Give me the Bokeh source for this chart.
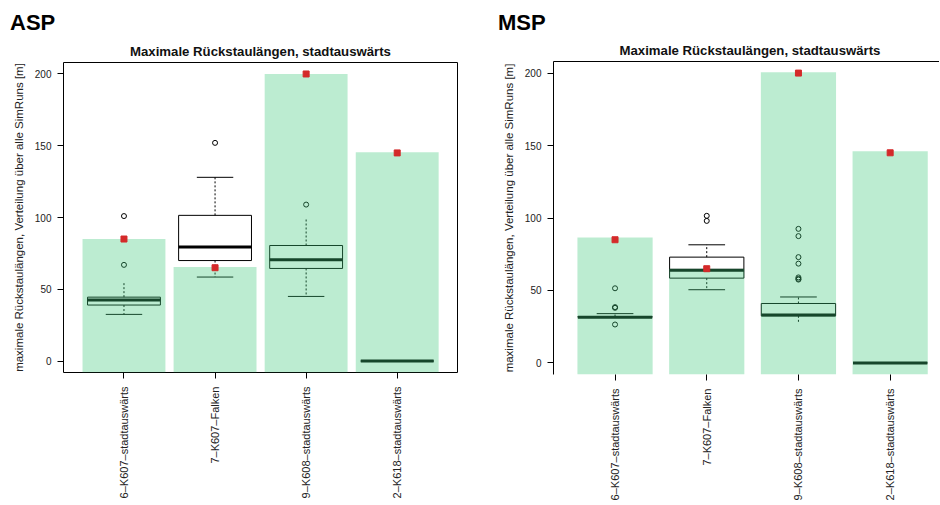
import math
from bokeh.plotting import figure
from bokeh.models import ColumnDataSource, Range1d, FixedTicker, LinearAxis, Div
from bokeh.transform import dodge
from bokeh.layouts import row, column
from bokeh.embed import file_html
from bokeh.resources import INLINE

NaN = float("nan")

# ---------------- data ----------------
title_text = "Maximale Rückstaulängen, stadtauswärts"
y_label = "maximale Rückstaulängen, Verteilung über alle SimRuns [m]"
y_ticks = [0, 50, 100, 150, 200]

asp_cats = ["6–K607–stadtauswärts", "7–K607–Falken", "9–K608–stadtauswärts", "2–K618–stadtauswärts"]
asp_bar = [85, 65.5, 200, 145.5]
asp_red = [85, 65, 200, 145]
asp_q1 = [39, 70, 64.5, 0]
asp_med = [42.5, 79.5, 70.5, 0]
asp_q3 = [44.5, 101.5, 80.5, 0]
asp_lo = [32.5, 58.5, 45, 0]
asp_hi = [54.5, 128, 100, 0]
asp_lo_cap = [32.5, 58.5, 45, NaN]
asp_hi_cap = [NaN, 128, NaN, NaN]
asp_out_cat = ["6–K607–stadtauswärts", "6–K607–stadtauswärts", "7–K607–Falken", "9–K608–stadtauswärts"]
asp_out_val = [101, 67, 152, 109]

msp_cats = ["6–K607–stadtauswärts", "7–K607–Falken", "9–K608–stadtauswärts", "2–K618–stadtauswärts"]
msp_bar = [86.5, 65, 200.5, 146]
msp_red = [85, 65, 200, 145]
msp_q1 = [31.5, 58.5, 32.5, 0]
msp_med = [31.5, 64, 33, 0]
msp_q3 = [32, 73, 41, 0]
msp_lo = [31.5, 50.5, 27, 0]
msp_hi = [34, 81.5, 45.5, 0]
msp_lo_cap = [NaN, 50.5, NaN, NaN]
msp_hi_cap = [34, 81.5, 45.5, NaN]
msp_out_cat = ["6–K607–stadtauswärts"] * 4 + ["7–K607–Falken"] * 2 + ["9–K608–stadtauswärts"] * 7
msp_out_val = [51.5, 38.5, 38, 26.5, 101.5, 98, 92.5, 87.5, 73, 68.5, 59, 57.5, 58]

FONT = "Liberation Sans"
Y0, Y1 = -8, 208


def make_panel(cats, bar, red, q1, med, q3, lo, hi, lo_cap, hi_cap, out_cat, out_val,
               frame_w, frame_h, mb_left, mb_right, mb_top, x_lo, x_hi, bar_w, box_w, cap_w,
               boxed, title_align, title_offset):
    p = figure(frame_width=frame_w, frame_height=frame_h,
               min_border_left=mb_left, min_border_right=mb_right,
               min_border_top=mb_top, min_border_bottom=133,
               x_range=Range1d(x_lo, x_hi), y_range=Range1d(Y0, Y1),
               output_backend="svg", toolbar_location=None)
    p.grid.visible = False
    p.background_fill_color = "white"
    p.border_fill_color = "white"

    p.title.text = title_text
    p.title.text_font = FONT
    p.title.text_font_size = "13.2px"
    p.title.text_font_style = "bold"
    p.title.text_color = "#111111"
    p.title.align = title_align
    p.title.offset = title_offset
    p.title.standoff = 8

    idx = {c: i + 1 for i, c in enumerate(cats)}
    xs = [idx[c] for c in cats]
    src = ColumnDataSource(dict(x=xs, bar=bar, red=red, q1=q1, med=med, q3=q3,
                                lo=lo, hi=hi, locap=lo_cap, hicap=hi_cap))

    # boxplot (drawn first, the bars overlay it translucently)
    p.vbar(x="x", bottom="q1", top="q3", width=box_w, fill_color="white",
           line_color="black", line_width=1, source=src)
    p.segment(x0="x", y0="q3", x1="x", y1="hi", line_color="black", line_width=1,
              line_dash="2 2", source=src)
    p.segment(x0="x", y0="q1", x1="x", y1="lo", line_color="black", line_width=1,
              line_dash="2 2", source=src)
    p.segment(x0=dodge("x", -cap_w / 2), y0="hicap", x1=dodge("x", cap_w / 2), y1="hicap",
              line_color="black", line_width=1, source=src)
    p.segment(x0=dodge("x", -cap_w / 2), y0="locap", x1=dodge("x", cap_w / 2), y1="locap",
              line_color="black", line_width=1, source=src)
    p.segment(x0=dodge("x", -box_w / 2), y0="med", x1=dodge("x", box_w / 2), y1="med",
              line_color="black", line_width=3, source=src)
    p.scatter(x=[idx[c] for c in out_cat], y=out_val, marker="circle", size=5,
              fill_color=None, line_color="black", line_width=1)

    # translucent bars
    p.vbar(x="x", bottom=Y0, top="bar", width=bar_w, fill_color="#40c97c",
           fill_alpha=0.35, line_color=None, source=src)
    # red markers
    p.scatter(x="x", y="red", marker="square", size=6, fill_color="#d42a2a",
              line_color="#d42a2a", source=src)

    # y axis
    ya = p.left[0]
    ya.ticker = FixedTicker(ticks=y_ticks)
    ya.axis_line_color = None if boxed else "black"
    ya.major_tick_out = 6
    ya.major_tick_in = 0
    ya.minor_tick_line_color = None
    ya.major_label_standoff = 6
    ya.major_label_text_font = FONT
    ya.major_label_text_font_size = "10px"
    ya.major_label_text_color = "#222222"
    ya.axis_label = y_label
    ya.axis_label_text_font = FONT
    ya.axis_label_text_font_size = "11.5px"
    ya.axis_label_text_font_style = "normal"
    ya.axis_label_text_color = "#222222"
    ya.axis_label_standoff = 7

    # x axis
    xa = p.below[0]
    xa.ticker = FixedTicker(ticks=xs)
    xa.major_label_overrides = {i: c for c, i in idx.items()}
    xa.major_label_orientation = math.pi / 2
    xa.axis_line_color = None
    xa.major_tick_out = 6
    xa.major_tick_in = 0
    xa.minor_tick_line_color = None
    xa.major_label_standoff = 8
    xa.major_label_text_font = FONT
    xa.major_label_text_font_size = "11px"
    xa.major_label_text_color = "#222222"

    if boxed:
        p.outline_line_color = "black"
        p.outline_line_width = 1
        p.outline_line_alpha = 1
    else:
        p.outline_line_color = None
        top = LinearAxis(ticker=FixedTicker(ticks=[]), axis_line_color="black",
                         major_tick_line_color=None, minor_tick_line_color=None,
                         major_label_text_font_size="0px")
        p.add_layout(top, "above")
    return p


def heading(text, pad_left, width):
    return Div(text=text, width=width, height=36, margin=0,
               styles={"font-family": FONT, "font-size": "22px", "font-weight": "bold",
                       "line-height": "28px", "padding-left": f"{pad_left}px",
                       "padding-top": "9px", "color": "black", "box-sizing": "border-box"})


left = make_panel(asp_cats, asp_bar, asp_red, asp_q1, asp_med, asp_q3, asp_lo, asp_hi,
                  asp_lo_cap, asp_hi_cap, asp_out_cat, asp_out_val,
                  frame_w=394, frame_h=310, mb_left=63, mb_right=29, mb_top=26,
                  x_lo=0.336, x_hi=4.662, bar_w=0.91, box_w=0.8, cap_w=0.4,
                  boxed=True, title_align="center", title_offset=0)
right = make_panel(msp_cats, msp_bar, msp_red, msp_q1, msp_med, msp_q3, msp_lo, msp_hi,
                   msp_lo_cap, msp_hi_cap, msp_out_cat, msp_out_val,
                   frame_w=386, frame_h=313, mb_left=67, mb_right=0, mb_top=23,
                   x_lo=0.329, x_hi=4.538, bar_w=0.82, box_w=0.81, cap_w=0.4,
                   boxed=False, title_align="left", title_offset=66)

layout = row(column(heading("ASP", 10, 486), left), column(heading("MSP", 12, 453), right))
open("out.html", "w").write(file_html(layout, INLINE))
